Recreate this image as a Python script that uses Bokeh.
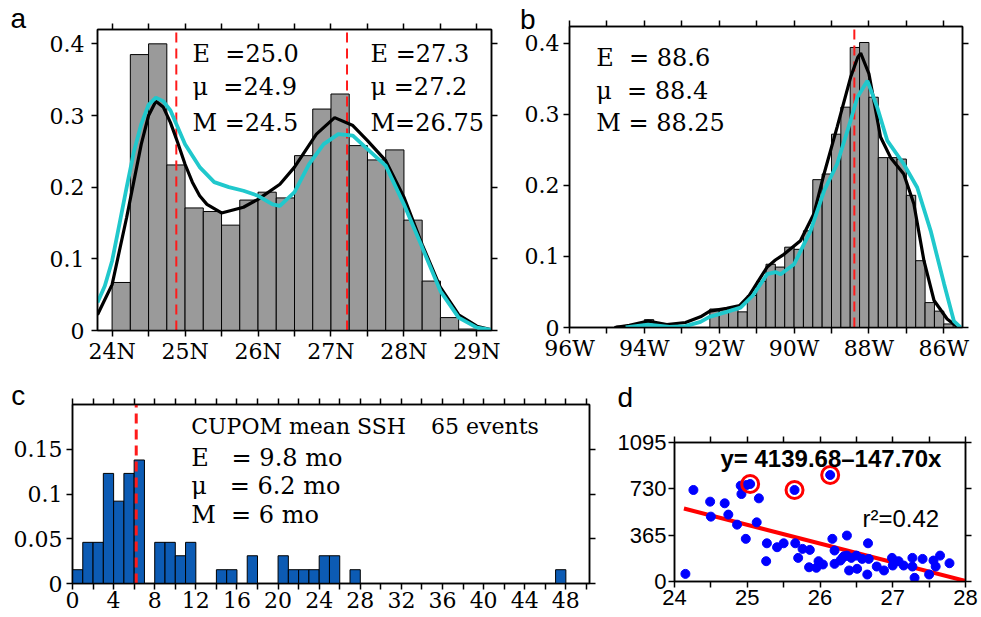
from bokeh.plotting import figure
from bokeh.models import Range1d, LinearAxis, FixedTicker, Label
from bokeh.layouts import column, row
from bokeh.embed import file_html
from bokeh.resources import INLINE

SERIF = "DejaVu Serif"
SANS = "Liberation Sans"
GREY = "#9a9a9a"
CYAN = "#20c8cc"
RED = "#ff1a1a"
BLUE_BAR = "#0c5bb4"

# ---------------- panel a : latitude histogram ----------------
a_centers = [24.125, 24.375, 24.625, 24.875, 25.125, 25.375, 25.625, 25.875, 26.125, 26.375,
             26.625, 26.875, 27.125, 27.375, 27.625, 27.875, 28.125, 28.375, 28.625, 28.875]
a_heights = [0.067, 0.385, 0.400, 0.231, 0.171, 0.166, 0.147, 0.182, 0.193, 0.185,
             0.244, 0.309, 0.330, 0.258, 0.238, 0.252, 0.154, 0.069, 0.018, 0.002]
a_black_x = [23.8, 24.0, 24.2, 24.4, 24.5, 24.6, 24.7, 24.8, 24.9, 25.0, 25.1, 25.2, 25.3, 25.5,
             25.8, 26.0, 26.3, 26.5, 26.8, 27.05, 27.3, 27.5, 27.75, 28.0, 28.25, 28.5, 28.75,
             29.0, 29.2]
a_black_y = [0.022, 0.064, 0.158, 0.260, 0.300, 0.320, 0.312, 0.290, 0.262, 0.232, 0.207, 0.188,
             0.176, 0.164, 0.172, 0.183, 0.204, 0.228, 0.274, 0.297, 0.286, 0.265, 0.237, 0.186,
             0.120, 0.060, 0.022, 0.006, 0.001]
a_cyan_x = [23.8, 23.9, 24.0, 24.1, 24.2, 24.3, 24.4, 24.5, 24.6, 24.7, 24.8, 25.0, 25.2, 25.4,
            25.6, 25.8, 26.0, 26.2, 26.3, 26.5, 26.7, 26.9, 27.1, 27.3, 27.5, 27.75, 28.0, 28.25,
            28.5, 28.75, 29.0, 29.2]
a_cyan_y = [0.039, 0.062, 0.097, 0.148, 0.200, 0.250, 0.288, 0.315, 0.325, 0.320, 0.307, 0.260,
            0.228, 0.207, 0.200, 0.195, 0.188, 0.176, 0.174, 0.193, 0.232, 0.260, 0.274, 0.272,
            0.253, 0.230, 0.176, 0.116, 0.055, 0.018, 0.004, 0.001]
a_means = [24.88, 27.22]
a_xticks = [24, 24.5, 25, 25.5, 26, 26.5, 27, 27.5, 28, 28.5, 29]
a_xlabels = ["24N", "", "25N", "", "26N", "", "27N", "", "28N", "", "29N"]
ab_yticks = [0, 0.1, 0.2, 0.3, 0.4]
ab_ylabels = ["0", "0.1", "0.2", "0.3", "0.4"]
a_text_left = ["E\u00a0\u00a0=25.0", "\u03bc\u00a0\u00a0=24.9", "M\u00a0=24.5"]
a_text_right = ["E\u00a0=27.3", "\u03bc\u00a0=27.2", "M=26.75"]

# ---------------- panel b : longitude histogram (degrees W) ----------------
b_centers_w = [94.625, 93.875, 92.125, 91.875, 91.625, 91.375, 91.125, 90.875, 90.625, 90.375,
               90.125, 89.875, 89.625, 89.375, 89.125, 88.875, 88.625, 88.375, 88.125, 87.875,
               87.625, 87.375, 87.125, 86.875, 86.625, 86.375, 86.125, 85.875]
b_heights = [0.002, 0.011, 0.026, 0.026, 0.026, 0.022, 0.045, 0.065, 0.089, 0.085,
             0.113, 0.110, 0.136, 0.208, 0.216, 0.272, 0.310, 0.394, 0.401, 0.324,
             0.239, 0.239, 0.237, 0.186, 0.094, 0.035, 0.023, 0.005]
b_black_w = [94.8, 94.4, 93.9, 93.4, 92.9, 92.5, 92.25, 91.8, 91.45, 91.2, 90.95, 90.72, 90.5,
             90.27, 89.83, 89.47, 89.2, 88.85, 88.49, 88.3, 88.22, 88.0, 87.69, 87.42, 87.07,
             86.8, 86.53, 86.26, 85.91, 85.64]
b_black_y = [0.0, 0.003, 0.009, 0.004, 0.007, 0.015, 0.023, 0.027, 0.031, 0.045, 0.066, 0.085,
             0.095, 0.103, 0.122, 0.160, 0.216, 0.282, 0.352, 0.380, 0.386, 0.357, 0.268, 0.239,
             0.216, 0.174, 0.094, 0.038, 0.012, 0.001]
b_cyan_w = [94.5, 93.9, 93.33, 92.9, 92.5, 92.26, 91.8, 91.43, 91.1, 90.72, 90.5, 90.36, 90.0,
            89.56, 89.2, 88.85, 88.49, 88.31, 88.04, 87.78, 87.51, 87.07, 86.71, 86.35, 85.99,
            85.73, 85.55]
b_cyan_y = [0.0, 0.004, 0.001, 0.002, 0.008, 0.015, 0.022, 0.028, 0.045, 0.075, 0.078, 0.075,
            0.089, 0.136, 0.192, 0.230, 0.291, 0.324, 0.347, 0.310, 0.263, 0.230, 0.197, 0.136,
            0.061, 0.009, 0.0]
b_mean_w = 88.39
b_xticks_w = [96, 95, 94, 93, 92, 91, 90, 89, 88, 87, 86]
b_xlabels = ["96W", "", "94W", "", "92W", "", "90W", "", "88W", "", "86W"]
b_text = ["E\u00a0\u00a0=\u00a088.6", "\u03bc\u00a0\u00a0=\u00a088.4", "M\u00a0=\u00a088.25"]

# ---------------- panel c : duration histogram ----------------
c_left = [0, 1, 2, 3, 4, 5, 6, 8, 9, 10, 11, 14, 15, 17, 20, 21, 22, 23, 24, 25, 27, 47]
c_right = [1, 2, 3, 4, 5, 6, 7, 9, 10, 11, 12, 15, 16, 18, 21, 22, 23, 24, 25, 26, 28, 48]
c_val = [0.0154, 0.046, 0.046, 0.123, 0.092, 0.123, 0.138, 0.046, 0.046, 0.031, 0.046,
         0.0154, 0.0154, 0.031, 0.031, 0.0154, 0.0154, 0.0154, 0.031, 0.031, 0.0154, 0.0154]
c_mean = 6.2
c_xticks = [0, 2, 4, 6, 8, 10, 12, 14, 16, 18, 20, 22, 24, 26, 28, 30, 32, 34, 36, 38, 40,
            42, 44, 46, 48, 50]
c_xlabels = ["0", "", "4", "", "8", "", "12", "", "16", "", "20", "", "24", "", "28", "",
             "32", "", "36", "", "40", "", "44", "", "48", ""]
c_yticks = [0, 0.05, 0.1, 0.15]
c_ylabels = ["0", "0.05", "0.1", "0.15"]
c_text = ["E\u00a0\u00a0\u00a0=\u00a09.8 mo", "\u03bc\u00a0\u00a0\u00a0=\u00a06.2 mo", "M\u00a0\u00a0=\u00a06 mo"]

# ---------------- panel d : scatter ----------------
d_x = [24.15, 24.26, 24.49, 24.50, 24.69, 24.74, 24.86, 24.91, 24.92, 24.98, 24.99, 25.04,
       25.16, 25.13, 25.27, 25.26, 25.41, 25.50, 25.65, 25.66, 25.70, 25.76, 25.86, 25.85,
       25.95, 25.98, 26.04, 26.14, 26.17, 26.20, 26.20, 26.28, 26.31, 26.33, 26.37, 26.37,
       26.40, 26.43, 26.50, 26.51, 26.58, 26.65, 26.66, 26.67, 26.78, 26.88, 26.99, 27.00,
       27.08, 27.15, 27.27, 27.27, 27.30, 27.41, 27.50, 27.56, 27.59, 27.65, 27.78]
d_y = [60, 721, 629, 511, 616, 527, 448, 755, 689, 336, 760, 768,
       655, 466, 301, 160, 270, 301, 721, 301, 186, 257, 249, 112,
       108, 160, 134, 839, 336, 244, 139, 165, 186, 199, 362, 204,
       87, 186, 204, 100, 178, 55, 301, 178, 118, 87, 186, 126,
       160, 126, 186, 118, 29, 178, 55, 165, 118, 204, 144]
d_circ_x = [25.04, 25.65, 26.14]
d_circ_y = [768, 721, 839]
d_fit_x = [24.13, 28.0]
d_fit_y = [575, 4]
d_xticks = [24, 24.5, 25, 25.5, 26, 26.5, 27, 27.5, 28]
d_xlabels = ["24", "", "25", "", "26", "", "27", "", "28"]
d_yticks = [0, 365, 730, 1095]
d_ylabels = ["0", "365", "730", "1095"]


def make_panel(width, height, bl, br, bt, bb, xr, yr):
    p = figure(width=width, height=height, x_range=Range1d(*xr), y_range=Range1d(*yr),
               x_axis_type=None, y_axis_type=None, output_backend="svg",
               toolbar_location=None, min_border_left=bl, min_border_right=br,
               min_border_top=bt, min_border_bottom=bb)
    p.outline_line_color = "black"
    p.outline_line_width = 1.5
    p.background_fill_color = "white"
    p.border_fill_color = "white"
    return p


def add_axes(p, xticks, xlabels, yticks, ylabels, font, size, ystand=2):
    specs = [("below", xticks, xlabels, 2), ("above", xticks, None, 0),
             ("left", yticks, ylabels, ystand), ("right", yticks, None, 0)]
    for loc, ticks, labels, stand in specs:
        ax = LinearAxis(ticker=FixedTicker(ticks=ticks, minor_ticks=[]))
        ax.major_label_overrides = {t: (labels[i] if labels else "") for i, t in enumerate(ticks)}
        ax.major_tick_out = 6
        ax.major_tick_in = 0
        ax.minor_tick_out = 0
        ax.minor_tick_in = 0
        ax.axis_line_color = "black"
        ax.axis_line_width = 1.5
        ax.major_tick_line_color = "black"
        ax.major_tick_line_width = 1.5
        ax.major_label_text_font = font
        ax.major_label_text_font_size = size if labels else "2px"
        ax.major_label_text_color = "black"
        ax.major_label_standoff = stand
        p.add_layout(ax, loc)


def txt(p, x, y, s, font, size, style="normal", place=None):
    lab = Label(x=x, y=y, text=s, text_font=font, text_font_size=size,
                text_font_style=style, text_align="left",
                text_baseline="alphabetic", text_color="black")
    if place is None:
        p.add_layout(lab)
    else:
        p.add_layout(lab, place)


# ---- panel a ----
A_Y = (0, 0.42)
pa = make_panel(505, 370, 97, 14, 29, 40, (23.8, 29.2), A_Y)
add_axes(pa, a_xticks, a_xlabels, ab_yticks, ab_ylabels, SERIF, "22px", ystand=7)
pa.vbar(x=a_centers, top=a_heights, width=0.25, bottom=0, fill_color=GREY,
        line_color="black", line_width=1)
pa.segment(x0=a_means, y0=[0, 0], x1=a_means, y1=[A_Y[1]] * 2, line_color=RED,
           line_width=2, line_dash="10 6")
pa.line(a_black_x, a_black_y, line_color="black", line_width=3.2)
pa.line(a_cyan_x, a_cyan_y, line_color=CYAN, line_width=3.8)
txt(pa, 22.608, 0.436, "a", SANS, "28px", place="left")
for i, yv in enumerate([0.3859, 0.3394, 0.2896]):
    txt(pa, 25.102, yv, a_text_left[i], SERIF, "24px")
    txt(pa, 27.542, yv, a_text_right[i], SERIF, "24px")

# ---- panel b ----
B_Y = (0, 0.4235)
pb = make_panel(476, 370, 64, 19, 26, 43, (-96, -85.5), B_Y)
add_axes(pb, [-w for w in b_xticks_w], b_xlabels, ab_yticks, ab_ylabels, SERIF, "22px", ystand=4)
pb.vbar(x=[-w for w in b_centers_w], top=b_heights, width=0.25, bottom=0,
        fill_color=GREY, line_color="black", line_width=1)
pb.segment(x0=[-b_mean_w], y0=[0], x1=[-b_mean_w], y1=[B_Y[1]], line_color=RED,
           line_width=2, line_dash="10 6")
pb.line([-w for w in b_black_w], b_black_y, line_color="black", line_width=3.2)
pb.line([-w for w in b_cyan_w], b_cyan_y, line_color=CYAN, line_width=3.8)
txt(pb, -97.32, 0.4334, "b", SANS, "28px", place="left")
for i, yv in enumerate([0.3795, 0.3325, 0.288]):
    txt(pb, -95.286, yv, b_text[i], SERIF, "24px")

# ---- panel c ----
C_Y = (0, 0.2)
pc = make_panel(610, 247, 72, 21, 34, 34, (0, 50.3), C_Y)
add_axes(pc, c_xticks, c_xlabels, c_yticks, c_ylabels, SERIF, "22px", ystand=4)
pc.quad(left=c_left, right=c_right, bottom=0, top=c_val, fill_color=BLUE_BAR,
        line_color="black", line_width=1)
pc.segment(x0=[c_mean], y0=[0], x1=[c_mean], y1=[C_Y[1]], line_color=RED,
           line_width=3, line_dash="10 6")
txt(pc, -5.96, 0.2101, "c", SANS, "28px", place="right")
txt(pc, 11.55, 0.1755, "CUPOM mean SSH", SERIF, "22px")
txt(pc, 34.89, 0.1755, "65 events", SERIF, "22px")
for i, yv in enumerate([0.1400, 0.1084, 0.0760]):
    txt(pc, 11.55, yv, c_text[i], SERIF, "24px")

# ---- panel d ----
pd_ = make_panel(371, 247, 64, 16, 72, 36, (24, 28), (0, 1095))
add_axes(pd_, d_xticks, d_xlabels, d_yticks, d_ylabels, SANS, "22px", ystand=2)
pd_.line(d_fit_x, d_fit_y, line_color="red", line_width=4)
pd_.scatter(d_x, d_y, size=9, fill_color="blue", line_color="blue")
pd_.scatter(d_circ_x, d_circ_y, size=17, fill_color=None, line_color="red", line_width=3)
txt(pd_, 23.2165, 1449.6, "d", SANS, "28px", place="above")
txt(pd_, 24.632, 966.6, "y= 4139.68\u2013147.70x", SANS, "24px", style="bold")
txt(pd_, 26.584, 498.7, "r\u00b2=0.42", SANS, "24px")

layout = column(row(column(pa), column(pb)), row(column(pc), column(pd_)))
open("out.html", "w").write(file_html(layout, INLINE))
